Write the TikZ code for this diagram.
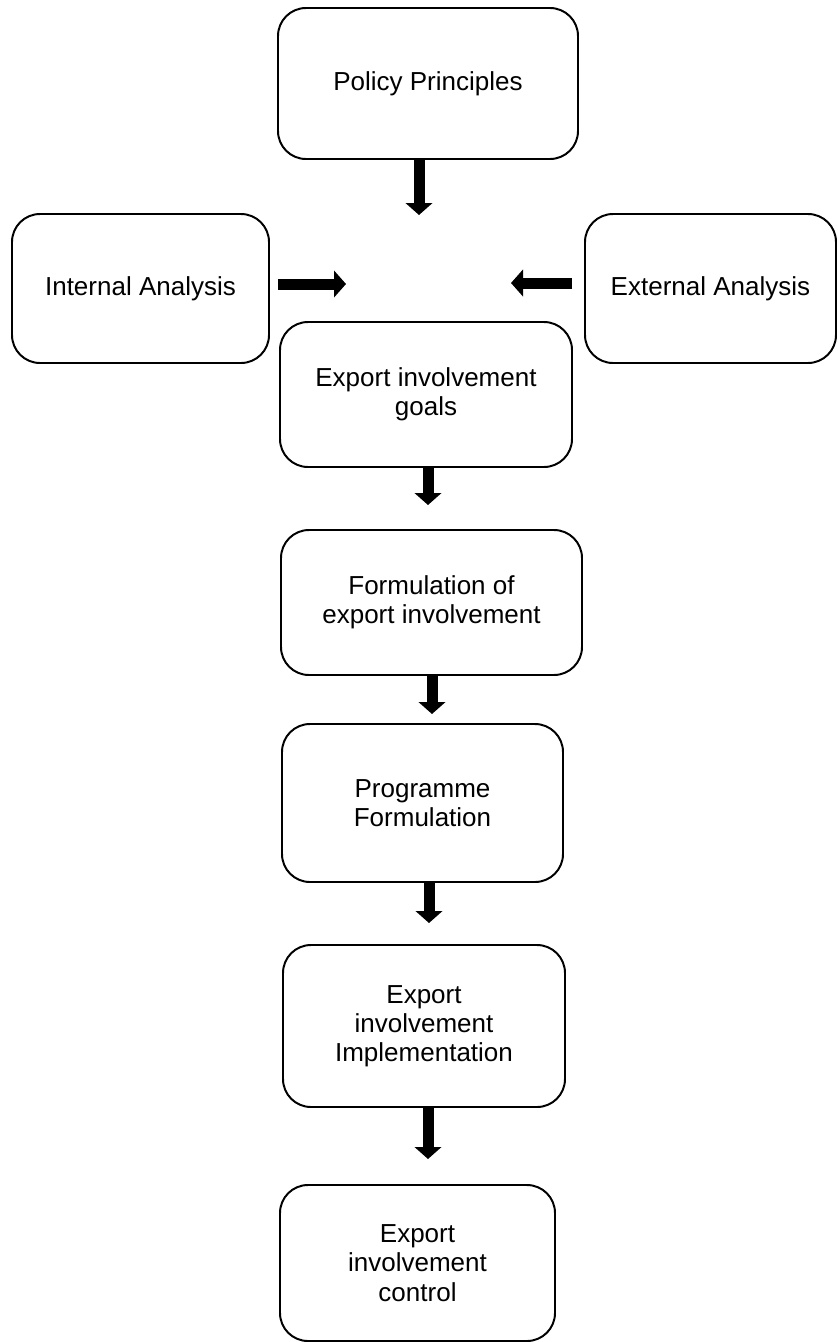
\documentclass[tikz,border=0pt]{standalone}
\usepackage{fontspec}
\setmainfont{Liberation Sans}
\usetikzlibrary{arrows.meta, positioning}

\begin{document}
\begin{tikzpicture}[
    x=0.025cm, y=-0.025cm,
    stage/.style={draw, line width=1.4pt, rounded corners=0.7cm,
                  align=center, inner sep=0pt,
                  font=\fontsize{18.5}{20.8}\selectfont},
    blockarrow/.style={line width=0.275cm,
                  -{Triangle[width=0.66cm, length=0.3cm]}},
    >=Stealth
  ]
  \useasboundingbox (0,0) rectangle (837,1342);

  % --- inputs to the goals ---
  \node[stage, minimum width=300*0.025cm, minimum height=151*0.025cm] (policy) at (428, 83.5) {Policy Principles};
  \node[stage, minimum width=257*0.025cm, minimum height=149*0.025cm] (internal) at (140.5, 288.5) {Internal Analysis};
  \node[stage, minimum width=251*0.025cm, minimum height=149*0.025cm] (external) at (710.5, 288.5) {External Analysis};

  % --- main chain ---
  \node[stage, minimum width=292*0.025cm, minimum height=145*0.025cm] (goals) at (426, 394.5) {Export involvement\\goals};
  \node[stage, minimum width=301*0.025cm, minimum height=145*0.025cm] (formulation) at (431.5, 602.5) {Formulation of\\export involvement};
  \node[stage, minimum width=281*0.025cm, minimum height=158*0.025cm] (programme) at (422.5, 803) {Programme\\Formulation};
  \node[stage, minimum width=282*0.025cm, minimum height=162*0.025cm] (implementation) at (424, 1026) {Export\\involvement\\Implementation};
  \node[stage, minimum width=275*0.025cm, minimum height=156*0.025cm] (control) at (417.5, 1263) {Export\\involvement\\control};

  % --- arrow tips ---
  \coordinate (tippolicy) at (419, 215);
  \coordinate (tipinternal) at (346, 284);
  \coordinate (tipexternal) at (511, 283);
  \coordinate (tipgoals) at (428, 505);
  \coordinate (tipformulation) at (432, 714);
  \coordinate (tipprogramme) at (429, 923);
  \coordinate (tipimplementation) at (428, 1159);

  \draw[blockarrow] (policy.south -| tippolicy) -- (tippolicy);
  \draw[blockarrow] ([xshift=0.2cm]internal.east |- tipinternal) -- (tipinternal);
  \draw[blockarrow] ([xshift=-0.3cm]external.west |- tipexternal) -- (tipexternal);
  \draw[blockarrow] (goals.south -| tipgoals) -- (tipgoals);
  \draw[blockarrow] (formulation.south -| tipformulation) -- (tipformulation);
  \draw[blockarrow] (programme.south -| tipprogramme) -- (tipprogramme);
  \draw[blockarrow] (implementation.south -| tipimplementation) -- (tipimplementation);

\end{tikzpicture}
\end{document}
